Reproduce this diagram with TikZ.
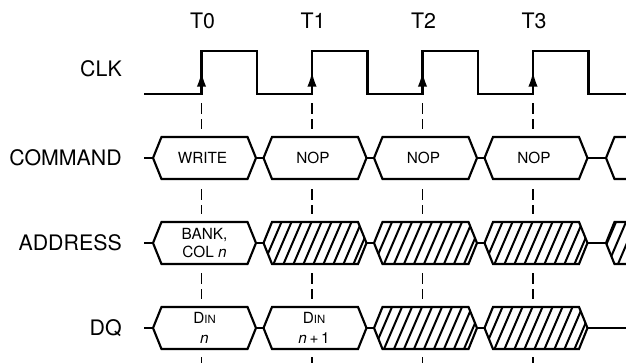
\documentclass[tikz,border=0pt]{standalone}
\usepackage{fontspec}
\setmainfont{TeX Gyre Heros}
\usetikzlibrary{arrows.meta}

\begin{document}
\begin{tikzpicture}[x=0.75pt, y=-0.75pt,
    sig/.style={line width=1.6pt},
    tick/.style={line width=1.1pt, dash pattern=on 8.25pt off 3.75pt},
    rowlabel/.style={anchor=east, inner sep=0pt, font=\fontsize{16}{19}\selectfont},
    timelabel/.style={inner sep=0pt, font=\fontsize{16}{19}\selectfont},
    celltext/.style={align=center, inner sep=0pt, font=\fontsize{11.5}{13.5}\selectfont},
    pics/cellbox/.style={code={
        \filldraw[sig, fill=white] (0,0) -- (8.5,-21) -- (94.5,-21) -- (103,0) -- (94.5,21) -- (8.5,21) -- cycle;
    }},
    pics/hatchbox/.style={code={
        \begin{scope}
            \clip (0,0) -- (8.5,-21) -- (94.5,-21) -- (103,0) -- (94.5,21) -- (8.5,21) -- cycle;
            \fill[white] (-1,-22) rectangle (104,22);
            \foreach \i in {-2,...,10}
                \draw[line width=1.5pt] (\i*10,21) -- ++(18,-42);
        \end{scope}
        \draw[sig] (0,0) -- (8.5,-21) -- (94.5,-21) -- (103,0) -- (94.5,21) -- (8.5,21) -- cycle;
    }},
]
    % Define timing
    \def\period{110.5}
    \def\edge{201.5}
    \def\first{153}

    % Page
    \fill[white] (0,0) rectangle (626,362);
    \useasboundingbox (0,0) rectangle (626,362);

    % Row labels
    \node[rowlabel] (clk)  at (122,69)  {CLK};
    \node[rowlabel] (cmd)  at (122,158) {COMMAND};
    \node[rowlabel] (addr) at (122,243) {ADDRESS};
    \node[rowlabel] (dq)   at (122,328) {DQ};

    % Clock edges and labels
    \foreach \k in {0,...,3} {
        \coordinate (e\k) at ({\edge+\period*\k},94);
        \node[timelabel] (t\k) at ({\edge+\period*\k+1},21) {T\k};
    }

    % Draw clock
    \draw[sig] (144,94) foreach \k in {0,...,3} {
        -- ({\edge+\period*\k},94) -- ++(0,-43) -- ++(55.5,0) -- ++(0,43)
    } -- (630,94);
    \foreach \k in {0,...,3}
        \draw[line width=1.2pt, -{Latex[length=11pt,width=7pt]}] (e\k) -- ++(0,-22);

    % Dashed reference lines
    \foreach \k in {0,...,3} {
        \foreach \a/\b in {94/137, 180/222, 264/307}
            \draw[tick] ({\edge+\period*\k},\a+9) -- ({\edge+\period*\k},\b-8);
        \draw[tick] ({\edge+\period*\k},357) -- ({\edge+\period*\k},368);
    }

    % Bus mid lines
    \foreach \y in {158,243,328}
        \draw[sig] (144,\y) -- (630,\y);

    % COMMAND row
    \foreach \k/\txt in {0/WRITE, 1/NOP, 2/NOP, 3/NOP} {
        \pic at ({\first+\period*\k},158) {cellbox};
        \node[celltext] (c\k) at ({\edge+\period*\k+1},158) {\txt};
    }
    \filldraw[sig, fill=white] (632,137) -- (614.5,137) -- (606,158) -- (614.5,179) -- (632,179);

    % ADDRESS row
    \pic at (\first,243) {cellbox};
    \node[celltext] (a0) at (\edge+3,243) {BANK,\\COL \textit{n}};
    \foreach \k in {1,...,3}
        \pic at ({\first+\period*\k},243) {hatchbox};
    \begin{scope}
        \clip (632,222) -- (614.5,222) -- (606,243) -- (614.5,264) -- (632,264) -- cycle;
        \fill[white] (600,220) rectangle (632,266);
        \foreach \i in {0,...,3}
            \draw[line width=1.5pt] (598+\i*10,264) -- ++(18,-42);
    \end{scope}
    \draw[sig] (632,222) -- (614.5,222) -- (606,243) -- (614.5,264) -- (632,264);

    % DQ row
    \pic at (\first,328) {cellbox};
    \pic at (\first+\period,328) {cellbox};
    \node[celltext, font=\fontsize{11.5}{15}\selectfont] (d0) at (\edge+3,328)
        {D{\fontsize{8.5}{9}\selectfont IN}\\\textit{n}};
    \node[celltext, font=\fontsize{11.5}{15}\selectfont] (d1) at (\edge+\period+2,328)
        {D{\fontsize{8.5}{9}\selectfont IN}\\\textit{n}\,+\,1};
    \foreach \k in {2,3}
        \pic at ({\first+\period*\k},328) {hatchbox};

\end{tikzpicture}
\end{document}
